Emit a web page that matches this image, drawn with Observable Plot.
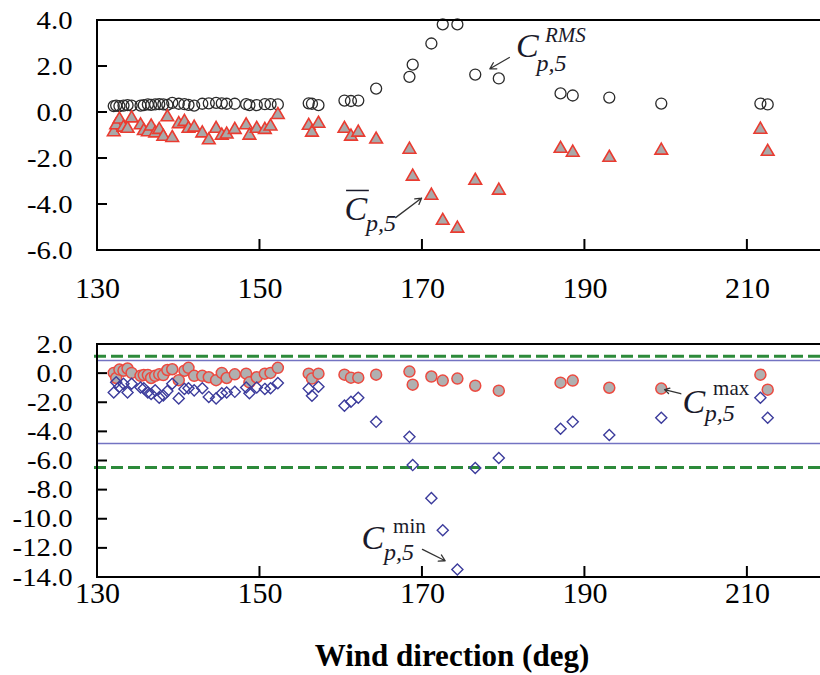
<!DOCTYPE html>
<html><head><meta charset="utf-8">
<script src="https://cdn.jsdelivr.net/npm/d3@7"></script>
<script src="https://cdn.jsdelivr.net/npm/@observablehq/plot@0.6"></script>
<style>
body{margin:0;background:#fff;overflow:hidden}
#chart svg{display:block}
</style>
</head><body><div id="chart"></div>
<script>
// Wind direction (deg) shared by all four series
const direction = [132.0,132.3,132.7,133.2,133.7,134.2,135.3,135.7,136.2,136.6,137.1,137.6,138.1,138.6,139.2,140.0,140.7,141.2,141.9,142.9,143.7,144.6,145.3,145.9,146.9,148.3,148.7,149.6,150.6,151.3,152.2,
  156.0,156.4,157.2,160.4,161.2,162.1,164.3,168.4,168.8,171.1,172.5,174.3,176.5,179.4,187.0,188.5,193.0,199.4,211.6,212.5];
const cpRms = [0.28,0.3,0.28,0.3,0.32,0.3,0.3,0.32,0.35,0.33,0.35,0.36,0.35,0.33,0.42,0.38,0.36,0.33,0.3,0.38,0.4,0.42,0.4,0.38,0.38,0.36,0.32,0.32,0.36,0.36,0.35,
  0.4,0.38,0.32,0.52,0.5,0.52,1.04,1.55,2.08,3.0,3.83,3.83,1.65,1.48,0.83,0.74,0.65,0.39,0.39,0.35];
const cpMean = [-0.85,-0.55,-0.3,-0.65,-0.7,-0.25,-0.55,-0.8,-0.85,-0.6,-0.9,-0.75,-1.05,-0.2,-1.1,-0.5,-0.4,-0.7,-0.65,-0.9,-1.2,-0.7,-1.0,-0.95,-0.75,-0.55,-1.0,-0.7,-0.75,-0.6,-0.1,
  -0.57,-0.87,-0.48,-0.70,-1.04,-0.87,-1.17,-1.61,-2.78,-3.61,-4.70,-5.04,-2.96,-3.39,-1.57,-1.74,-1.96,-1.65,-0.74,-1.70];
const cpMax = [0.05,-0.3,0.28,0.2,0.35,0.05,-0.15,-0.1,-0.1,-0.3,-0.15,-0.05,-0.1,0.25,0.3,-0.45,0.2,0.4,-0.15,-0.15,-0.25,-0.45,0.05,-0.3,-0.05,0.0,-0.6,-0.25,0.0,0.05,0.4,
  0.0,-0.34,0.0,-0.07,-0.28,-0.28,-0.07,0.14,-0.76,-0.2,-0.48,-0.34,-0.83,-1.17,-0.62,-0.48,-0.97,-1.03,-0.07,-1.1];
const cpMin = [-1.3,-0.6,-0.9,-0.7,-1.3,-0.7,-0.95,-1.0,-1.3,-1.4,-1.15,-1.65,-1.5,-1.2,-0.7,-1.7,-1.05,-1.0,-1.15,-1.0,-1.6,-1.7,-1.35,-1.3,-1.25,-0.95,-1.35,-0.95,-1.05,-1.0,-0.65,
  -1.03,-1.52,-0.9,-2.2,-1.93,-1.66,-3.31,-4.34,-6.28,-8.55,-10.76,-13.45,-6.48,-5.79,-3.79,-3.31,-4.21,-3.03,-1.66,-3.03];

const xTicks = [130,150,170,190,210];
const yTicksTop = [4,2,0,-2,-4,-6];
const yTicksBottom = [2,0,-2,-4,-6,-8,-10,-12,-14];
const dashedLimits = [1.2,-6.45];
const solidLimits = [0.9,-4.8];
const xLabel = "Wind direction (deg)";

// annotations (data coordinates)
const topLabelsBig = [{t:"C",x:182.9,y:2.87},{t:"C",x:161.8,y:-4.22}];
const topLabelsSub = [{t:"p,5",x:185.9,y:2.12},{t:"p,5",x:164.9,y:-4.82}];
const topLabelsSup = [{t:"RMS",x:187.6,y:3.35}];
const topBars = [{x1:160.6,x2:163.4,y:-3.39}];
const topArrows = [{x1:180.7,y1:2.39,x2:178.3,y2:1.9},{x1:166.7,y1:-4.57,x2:169.9,y2:-3.72}];
const botLabelsBig = [{t:"C",x:203.4,y:-1.93},{t:"C",x:163.9,y:-11.31}];
const botLabelsSub = [{t:"p,5",x:206.6,y:-2.72},{t:"p,5",x:167.1,y:-12.3}];
const botLabelsSup = [{t:"max",x:208.0,y:-1.03},{t:"min",x:168.4,y:-10.48}];
const botArrows = [{x1:201.8,y1:-1.38,x2:199.8,y2:-1.1},{x1:170.0,y1:-12.07,x2:172.8,y2:-12.85}];

const rows = direction.map((d,i)=>({dir:d, rms:cpRms[i], mean:cpMean[i], max:cpMax[i], min:cpMin[i]}));

const frameAndTicks = (yTicks) => (index, {x, y}, values, dim) => {
  const g = d3.create("svg:g").attr("stroke","#000").attr("stroke-width",2).attr("fill","none");
  const L = dim.marginLeft, T = dim.marginTop, B = dim.height - dim.marginBottom, R = dim.width;
  xTicks.slice(1).forEach(v => g.append("line").attr("x1",x(v)).attr("x2",x(v)).attr("y1",B).attr("y2",B-11));
  yTicks.forEach(v => g.append("line").attr("x1",L).attr("x2",L+10).attr("y1",y(v)).attr("y2",y(v)));
  g.append("path").attr("d", `M${R+5},${T}H${L}V${B}H${R+5}`);
  return g.node();
};

const common = {
  width: 820, marginLeft: 97, marginRight: 0,
  x: {domain: [130, 219]},
  style: {fontFamily: "Liberation Serif", color: "#000", background: "#fff", overflow: "visible"}
};

const annot = (big, sub, sup, supStyle) => [
  Plot.text(big, {x:"x", y:"y", text:"t", fontSize:34, fontStyle:"italic", fill:"#1a1a2a"}),
  Plot.text(sub, {x:"x", y:"y", text:"t", fontSize:24, fontStyle:"italic", fill:"#1a1a2a"}),
  Plot.text(sup, {x:"x", y:"y", text:"t", fontSize:21, fontStyle:supStyle, fill:"#1a1a2a"})
];

const topPlot = Plot.plot({
  ...common,
  height: 316, marginTop: 20, marginBottom: 66,
  y: {domain: [-6, 4]},
  marks: [
    Plot.axisX({ticks: xTicks, tickSize: 0, tickPadding: 26, fontSize: 30, tickFormat: d => String(d), label: null}),
    Plot.axisY({ticks: yTicksTop, tickSize: 0, tickPadding: 25, fontSize: 25, tickFormat: d => d.toFixed(1), label: null}),
    Plot.dot(rows, {x:"dir", y:"rms", r:5.5, stroke:"#2b2b2b", strokeWidth:1.3, fill:"none"}),
    Plot.dot(rows, {x:"dir", y:"mean", symbol:"triangle", r:4.7, fill:"#a9a9a9", stroke:"#ea3b30", strokeWidth:1.6}),
    ...annot(topLabelsBig, topLabelsSub, topLabelsSup, "italic"),
    Plot.link(topBars, {x1:"x1", x2:"x2", y1:"y", y2:"y", stroke:"#1a1a2a", strokeWidth:1.5}),
    Plot.arrow(topArrows, {x1:"x1", y1:"y1", x2:"x2", y2:"y2", stroke:"#333", strokeWidth:1.3, headLength:8}),
    frameAndTicks(yTicksTop)
  ]
});

const bottomPlot = Plot.plot({
  ...common,
  height: 359, marginTop: 28, marginBottom: 98,
  y: {domain: [-14, 2]},
  marks: [
    Plot.axisX({ticks: xTicks, tickSize: 0, tickPadding: 4, fontSize: 30, tickFormat: d => String(d), label: null}),
    Plot.axisY({ticks: yTicksBottom, tickSize: 0, tickPadding: 25, fontSize: 25, tickFormat: d => d.toFixed(1), label: null}),
    Plot.ruleY(solidLimits, {stroke:"#7373c2", strokeWidth:1.6}),
    Plot.ruleY(dashedLimits, {stroke:"#2c8a3a", strokeWidth:3, strokeDasharray:"12,5", insetLeft:-3}),
    Plot.dot(rows, {x:"dir", y:"max", r:5.5, fill:"#b0b0b0", stroke:"#ec4a40", strokeWidth:1.5}),
    Plot.dot(rows, {x:"dir", y:"min", symbol:"diamond2", r:5, stroke:"#3c3c9c", strokeWidth:1.4, fill:"none"}),
    ...annot(botLabelsBig, botLabelsSub, botLabelsSup, "normal"),
    Plot.arrow(botArrows, {x1:"x1", y1:"y1", x2:"x2", y2:"y2", stroke:"#333", strokeWidth:1.3, headLength:8}),
    Plot.text([xLabel], {frameAnchor:"bottom", dy: 88, dx: -7, fontSize: 31, fontWeight: "bold"}),
    frameAndTicks(yTicksBottom)
  ]
});

const chart = document.getElementById("chart");
chart.append(topPlot, bottomPlot);

// horizontally widen the y tick labels as in the reference typeface
for (const svg of [topPlot, bottomPlot]) {
  svg.querySelectorAll('g[aria-label="y-axis tick label"] text').forEach(t => {
    const len = t.getComputedTextLength();
    t.setAttribute("textLength", (len * 1.15).toFixed(1));
    t.setAttribute("lengthAdjust", "spacingAndGlyphs");
  });
}
</script>
</body></html>
